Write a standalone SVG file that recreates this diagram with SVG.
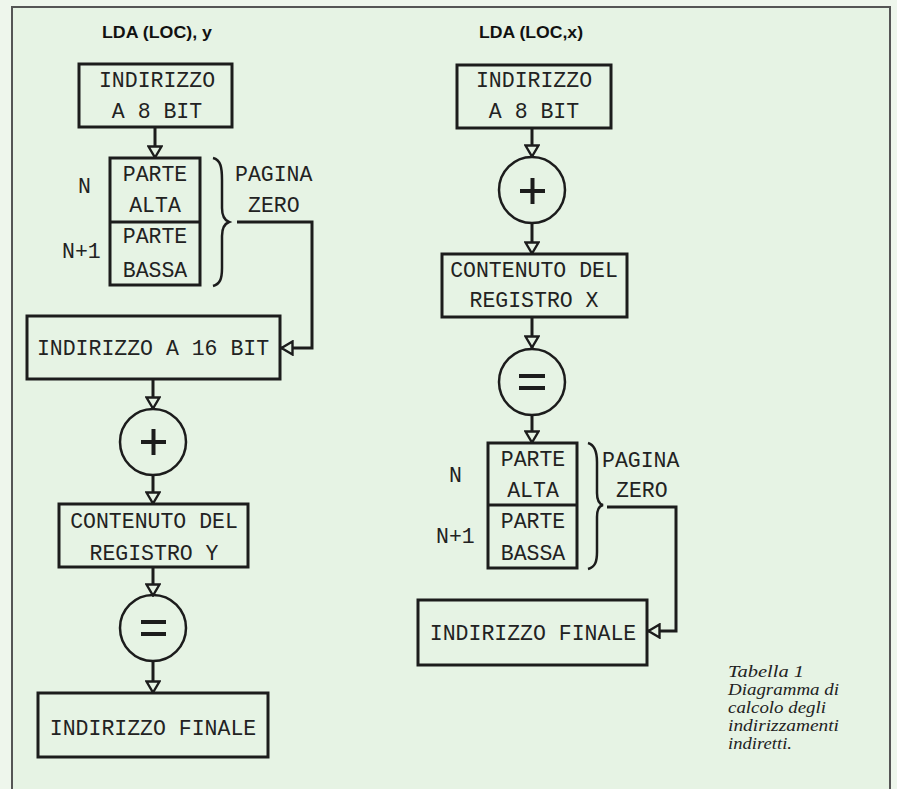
<svg xmlns="http://www.w3.org/2000/svg" width="897" height="789" viewBox="0 0 897 789">
<defs>
<style>
.bg{fill:#e6f3e4}
.box{fill:none;stroke:#1c1c1c;stroke-width:3}
.circ{fill:none;stroke:#1c1c1c;stroke-width:2.5}
.sym{stroke:#1c1c1c;stroke-width:4;stroke-linecap:butt}
.con{fill:none;stroke:#1c1c1c;stroke-width:3}
.brace{fill:none;stroke:#1c1c1c;stroke-width:2.5}
.m{font-family:"Liberation Mono","DejaVu Sans Mono",monospace;font-size:21.5px;fill:#222;text-anchor:middle}
.ml{font-family:"Liberation Mono","DejaVu Sans Mono",monospace;font-size:21.5px;fill:#222}
.t{font-family:"Liberation Sans",Arial,sans-serif;font-weight:bold;font-size:16px;fill:#111}
.cap{font-family:"Liberation Serif","Times New Roman",serif;font-style:italic;font-size:16.5px;fill:#222}
</style>
<marker id="ah" viewBox="0 0 14 16" refX="13" refY="8" markerWidth="14" markerHeight="16" markerUnits="userSpaceOnUse" orient="auto">
<path d="M1.5,1.5 L12.5,8 L1.5,14.5 Z" fill="#e6f3e4" stroke="#1c1c1c" stroke-width="2.4"/>
</marker>
</defs>
<rect x="0" y="0" width="897" height="789" fill="#eef6ec"/>
<rect x="12" y="7" width="878" height="790" class="bg" stroke="#555" stroke-width="2"/>

<g id="title-left"><text class="t" x="102" y="38" textLength="110" lengthAdjust="spacingAndGlyphs">LDA (LOC), y</text></g>
<g id="title-right"><text class="t" x="479" y="38" textLength="104" lengthAdjust="spacingAndGlyphs">LDA (LOC,x)</text></g>

<g id="connectors">
<path class="con" d="M155,127 V158" marker-end="url(#ah)"/>
<path class="con" d="M237,222 H312 V348 H281" marker-end="url(#ah)"/>
<path class="con" d="M153,379 V409" marker-end="url(#ah)"/>
<path class="con" d="M153,475 V504" marker-end="url(#ah)"/>
<path class="con" d="M153,567 V596" marker-end="url(#ah)"/>
<path class="con" d="M153,661 V693" marker-end="url(#ah)"/>
<path class="con" d="M532,128 V157" marker-end="url(#ah)"/>
<path class="con" d="M532,223 V254" marker-end="url(#ah)"/>
<path class="con" d="M532,317 V348" marker-end="url(#ah)"/>
<path class="con" d="M532,416 V443" marker-end="url(#ah)"/>
<path class="con" d="M607,507 H676 V631 H648" marker-end="url(#ah)"/>
</g>

<g id="L-addr8">
<rect class="box" x="79" y="64" width="153" height="63"/>
<text class="m" x="157" y="87">INDIRIZZO</text>
<text class="m" x="157" y="118">A 8 BIT</text>
</g>
<g id="L-zeropage">
<rect class="box" x="110" y="158" width="90" height="127"/>
<line class="box" x1="110" y1="222" x2="200" y2="222"/>
<text class="m" x="155" y="181">PARTE</text>
<text class="m" x="155" y="212">ALTA</text>
<text class="m" x="155" y="243">PARTE</text>
<text class="m" x="155" y="277">BASSA</text>
<text class="ml" x="78" y="193">N</text>
<text class="ml" x="62" y="258">N+1</text>
<path class="brace" d="M213,158 C221,160 222,168 222,180 L222,208 C222,216 224,220 229,222 C224,224 222,228 222,236 L222,268 C222,279 220,284 213,286"/>
<text class="ml" x="235" y="181">PAGINA</text>
<text class="ml" x="248" y="212">ZERO</text>
</g>
<g id="L-addr16">
<rect class="box" x="27" y="316" width="253" height="63"/>
<text class="m" x="153" y="355">INDIRIZZO A 16 BIT</text>
</g>
<g id="L-plus">
<circle class="circ" cx="153" cy="442" r="33"/>
<line class="sym" x1="141" y1="442" x2="166" y2="442"/>
<line class="sym" x1="153.5" y1="429" x2="153.5" y2="455"/>
</g>
<g id="L-regY">
<rect class="box" x="59" y="504" width="189" height="63"/>
<text class="m" x="154" y="528">CONTENUTO DEL</text>
<text class="m" x="154" y="560">REGISTRO Y</text>
</g>
<g id="L-eq">
<circle class="circ" cx="153" cy="628" r="33"/>
<line class="sym" x1="141" y1="622" x2="166" y2="622" stroke-width="3"/>
<line class="sym" x1="141" y1="634" x2="166" y2="634" stroke-width="3"/>
</g>
<g id="L-final">
<rect class="box" x="38" y="693" width="230" height="64"/>
<text class="m" x="153" y="735">INDIRIZZO FINALE</text>
</g>

<g id="R-addr8">
<rect class="box" x="457" y="65" width="154" height="63"/>
<text class="m" x="534" y="87">INDIRIZZO</text>
<text class="m" x="534" y="118">A 8 BIT</text>
</g>
<g id="R-plus">
<circle class="circ" cx="532" cy="190" r="33"/>
<line class="sym" x1="520" y1="191" x2="545" y2="191"/>
<line class="sym" x1="532.5" y1="178" x2="532.5" y2="204"/>
</g>
<g id="R-regX">
<rect class="box" x="442" y="254" width="185" height="63"/>
<text class="m" x="534" y="277">CONTENUTO DEL</text>
<text class="m" x="534" y="307">REGISTRO X</text>
</g>
<g id="R-eq">
<circle class="circ" cx="532" cy="382" r="33"/>
<line class="sym" x1="519" y1="376" x2="545" y2="376" stroke-width="3"/>
<line class="sym" x1="519" y1="388" x2="545" y2="388" stroke-width="3"/>
</g>
<g id="R-zeropage">
<rect class="box" x="488" y="443" width="89" height="125"/>
<line class="box" x1="488" y1="505" x2="577" y2="505"/>
<text class="m" x="533" y="466">PARTE</text>
<text class="m" x="533" y="497">ALTA</text>
<text class="m" x="533" y="528">PARTE</text>
<text class="m" x="533" y="560">BASSA</text>
<text class="ml" x="449" y="482">N</text>
<text class="ml" x="436" y="543">N+1</text>
<path class="brace" d="M588,443 C595,445 597,452 597,462 L597,493 C597,500 599,504 603,505 C599,506 597,510 597,517 L597,552 C597,562 595,567 588,569"/>
<text class="ml" x="602" y="467">PAGINA</text>
<text class="ml" x="616" y="497">ZERO</text>
</g>
<g id="R-final">
<rect class="box" x="418" y="600" width="229" height="65"/>
<text class="m" x="533" y="640">INDIRIZZO FINALE</text>
</g>

<g id="caption">
<text class="cap" x="728" y="677" textLength="76" lengthAdjust="spacingAndGlyphs">Tabella 1</text>
<text class="cap" x="728" y="695" textLength="111" lengthAdjust="spacingAndGlyphs">Diagramma di</text>
<text class="cap" x="728" y="713" textLength="98" lengthAdjust="spacingAndGlyphs">calcolo degli</text>
<text class="cap" x="728" y="731" textLength="111" lengthAdjust="spacingAndGlyphs">indirizzamenti</text>
<text class="cap" x="728" y="749" textLength="64" lengthAdjust="spacingAndGlyphs">indiretti.</text>
</g>
</svg>
